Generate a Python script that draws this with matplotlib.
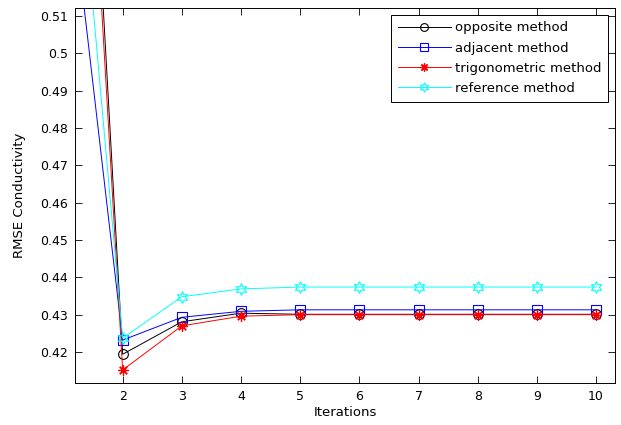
import matplotlib
matplotlib.use('Agg')
import matplotlib.pyplot as plt

iterations = [1, 2, 3, 4, 5, 6, 7, 8, 9, 10]
opposite = [0.702, 0.4194, 0.4281, 0.4304, 0.4301, 0.4301, 0.4301, 0.4301, 0.4301, 0.4301]
adjacent = [0.560, 0.4232, 0.4293, 0.4309, 0.4313, 0.4313, 0.4313, 0.4313, 0.4313, 0.4313]
trigonometric = [0.688, 0.4152, 0.4270, 0.4296, 0.4300, 0.4300, 0.4300, 0.4300, 0.4300, 0.4300]
reference = [0.601, 0.4237, 0.4348, 0.4369, 0.4374, 0.4374, 0.4374, 0.4374, 0.4374, 0.4374]

plt.rcParams['font.family'] = ['DejaVu Sans']

fig = plt.figure(figsize=(6.21, 4.25), dpi=100)
ax = fig.add_axes([0.1208, 0.0988, 0.8695, 0.8822])

ax.plot(iterations, opposite, '-o', color='k', lw=0.7, ms=7, mfc='none', mew=0.8, label='opposite method')
ax.plot(iterations, adjacent, '-s', color='#0000ff', lw=0.7, ms=7.5, mfc='none', mew=0.8, label='adjacent method')
ax.plot(iterations, trigonometric, '-', marker=(8, 2, 0), color='#ff0000', lw=0.7, ms=7.5, mew=0.9, label='trigonometric method')
ax.plot(iterations, reference, '-', marker=(6, 1, 0), color='#00ffff', lw=0.7, ms=8.5, mfc='none', mew=0.8, label='reference method')

ax.set_xlim(1.195, 10.32)
ax.set_ylim(0.4117, 0.5121)
ax.set_xticks(range(2, 11))
ax.set_yticks([0.42, 0.43, 0.44, 0.45, 0.46, 0.47, 0.48, 0.49, 0.5, 0.51])
ax.set_yticklabels(['0.42', '0.43', '0.44', '0.45', '0.46', '0.47', '0.48', '0.49', '0.5', '0.51'])
ax.tick_params(direction='in', top=True, right=True, length=5, width=0.6, labelsize=9, pad=5)
for s in ax.spines.values():
    s.set_linewidth(0.7)

ax.set_xlabel('Iterations', fontsize=9.5, labelpad=2)
ax.set_ylabel('RMSE Conductivity', fontsize=9.5, labelpad=10)

leg = ax.legend(loc='upper right', fontsize=9.5, fancybox=False, framealpha=1,
                edgecolor='k', borderaxespad=0.5, handlelength=4.0, handletextpad=0.35,
                labelspacing=0.55, borderpad=0.5, markerscale=0.8)
leg.get_frame().set_linewidth(0.7)

fig.savefig('out.png', dpi=100)
